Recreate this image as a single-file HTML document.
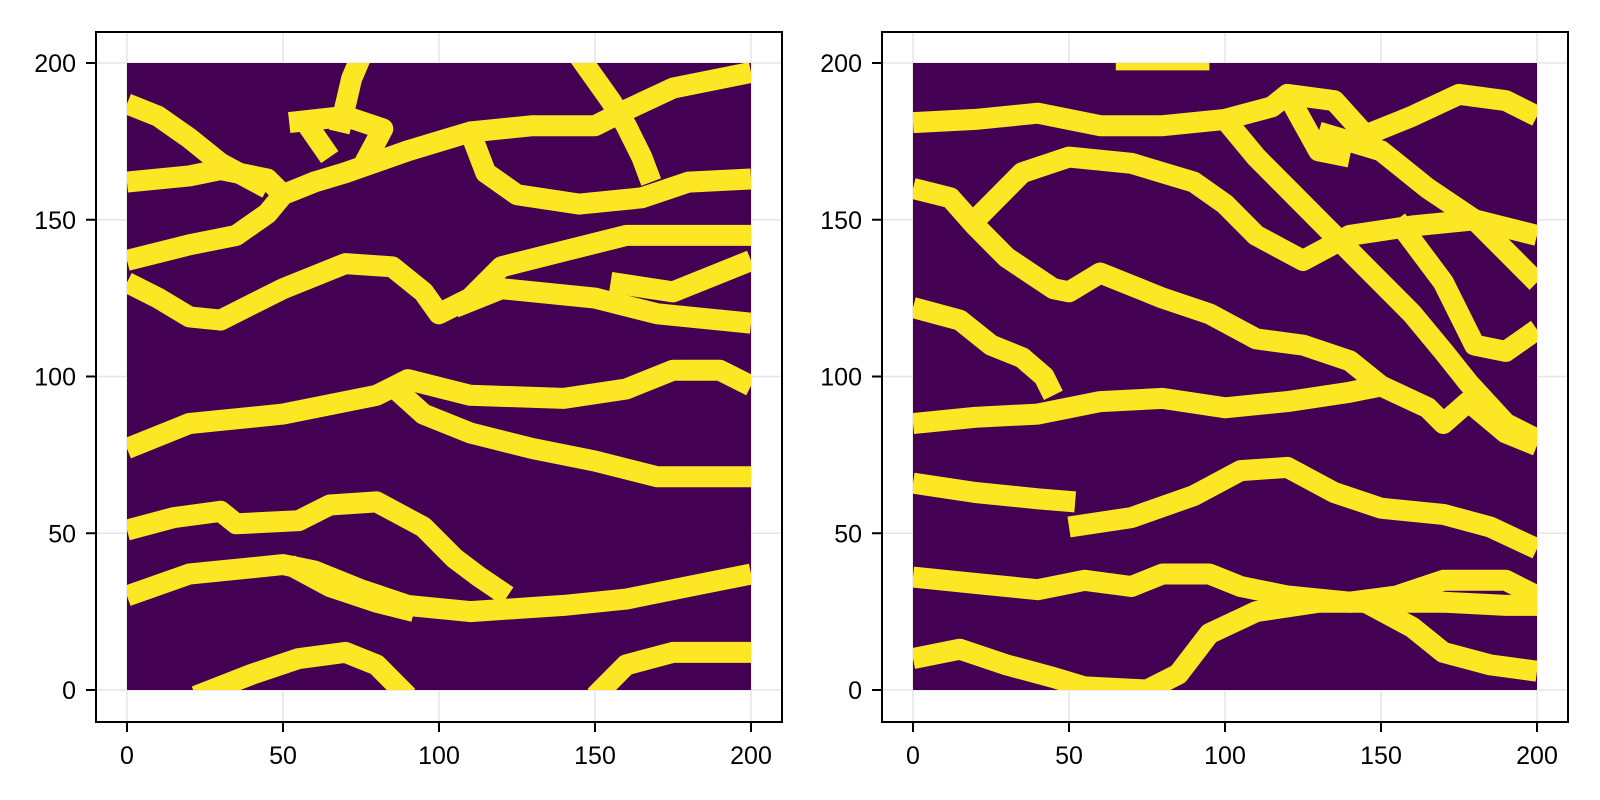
<!DOCTYPE html>
<html><head><meta charset="utf-8"><style>
html,body{margin:0;padding:0;background:#fff;}
svg{display:block;font-family:"Liberation Sans",Arial,sans-serif;}
</style></head><body>
<svg id="chart" width="1600" height="800" viewBox="0 0 1600 800" xmlns="http://www.w3.org/2000/svg"></svg>
<script>
const xTicks = [0, 50, 100, 150, 200];
const yTicks = [0, 50, 100, 150, 200];
const leftBands = [
  [[0,30],[20,37],[50,40],[60,38],[75,32],[90,27],[110,25],[140,27],[160,29],[180,33],[200,37]],
  [[0,51],[15,55],[30,57],[35,53],[55,54],[65,59],[80,60],[95,52],[105,42],[113,36],[122,30]],
  [[52,40],[65,33],[80,28],[92,25]],
  [[0,77],[20,85],[50,88],[80,94],[90,99],[110,94],[140,93],[160,96],[175,102],[190,102],[200,97]],
  [[85,97],[95,88],[110,82],[130,77],[150,73],[170,68],[200,68]],
  [[0,130],[10,125],[20,119],[30,118],[50,128],[70,136],[85,135],[95,127],[100,120],[110,125],[120,135],[140,140],[160,145],[200,145]],
  [[105,122],[120,128],[150,125],[170,120],[190,118],[200,117]],
  [[155,130],[175,127],[200,137]],
  [[0,137],[20,142],[35,145],[45,152],[50,158],[60,162],[70,165],[90,172],[110,178],[130,180],[150,180],[160,185],[175,192],[200,197]],
  [[0,162],[20,164],[30,166],[45,163],[50,158]],
  [[0,187],[10,183],[20,176],[30,168],[45,160]],
  [[52,181],[70,183],[82,179],[75,166]],
  [[58,180],[65,170]],
  [[68,178],[72,195],[75,202]],
  [[110,178],[115,165],[125,158],[145,155],[165,157],[180,162],[200,163]],
  [[145,202],[155,188],[160,180],[165,170],[168,162]],
  [[22,-2],[40,5],[55,10],[70,12],[80,8],[90,-2]],
  [[150,-2],[160,8],[175,12],[200,12]]
];
const rightBands = [
  [[0,10],[15,13],[30,8],[45,4],[55,1],[75,0],[85,5],[95,18],[110,25],[130,28],[145,28],[160,20],[170,12],[185,8],[200,6]],
  [[0,36],[20,34],[40,32],[55,35],[70,33],[80,37],[95,37],[105,33],[120,30],[140,28],[155,30],[170,35],[190,35],[200,30]],
  [[150,28],[170,28],[190,27],[200,27]],
  [[0,66],[20,63],[40,61],[52,60]],
  [[50,52],[70,55],[90,62],[105,70],[120,71],[135,63],[150,58],[170,56],[185,52],[200,45]],
  [[0,85],[20,87],[40,88],[60,92],[80,93],[100,90],[120,92],[140,95],[150,97],[165,90],[170,85],[178,92],[190,82],[200,78]],
  [[0,122],[15,118],[25,110],[35,106],[42,100],[45,94]],
  [[0,160],[12,157],[20,148],[30,138],[45,128],[50,127],[60,133],[80,125],[95,120],[110,112],[125,110],[140,105],[150,97]],
  [[20,150],[35,165],[50,170],[70,168],[90,162],[100,155],[110,145],[125,137],[140,145],[160,148],[180,150],[200,130]],
  [[0,181],[20,182],[40,184],[60,180],[80,180],[100,182],[115,186],[120,190],[135,188],[145,177],[160,183],[175,190],[190,188],[200,183]],
  [[120,190],[130,172],[140,170]],
  [[100,182],[110,170],[120,160],[130,150],[140,140],[160,120],[170,108],[178,98],[190,85],[200,80]],
  [[130,178],[150,172],[165,160],[180,150],[200,145]],
  [[155,150],[170,130],[180,110],[190,108],[200,115]],
  [[65,201],[95,201]]
];
const panels = [
  {name:'left', bands:leftBands, frameX:96, dataX0:127, dataX1:751},
  {name:'right', bands:rightBands, frameX:882, dataX0:913, dataX1:1537}
];
const NS = 'http://www.w3.org/2000/svg';
const svg = document.getElementById('chart');
const Y0 = 690, Y1 = 63, FT = 32, FB = 722;
function mk(tag, attrs, parent){
  const e = document.createElementNS(NS, tag);
  for (const k in attrs) e.setAttribute(k, attrs[k]);
  parent.appendChild(e); return e;
}
panels.forEach((p, pi) => {
  const sx = v => p.dataX0 + (v/200)*(p.dataX1 - p.dataX0);
  const sy = v => Y0 - (v/200)*(Y0 - Y1);
  const g = mk('g', {}, svg);
  
  
  const fw = (p.dataX1 - p.dataX0) + 62;
  xTicks.forEach(t => {
    const l = mk('line', {x1:sx(t), x2:sx(t), y1:FT, y2:FB, stroke:'#e6e6e6', 'stroke-width':1.5}, g);
    
    
  });
  yTicks.forEach(t => {
    const l = mk('line', {x1:p.frameX, x2:p.frameX+fw, y1:sy(t), y2:sy(t), stroke:'#e6e6e6', 'stroke-width':1.5}, g);
    
    
  });
  const cid = 'clip' + pi;
  const cp = mk('clipPath', {id:cid}, g);
  mk('rect', {x:sx(0), y:sy(200), width:sx(200)-sx(0), height:sy(0)-sy(200)}, cp);
  const bg = mk('rect', {x:sx(0), y:sy(200), width:sx(200)-sx(0), height:sy(0)-sy(200), fill:'#440154'}, g);
  
  
  const bandsG = mk('g', {'clip-path':'url(#'+cid+')'}, g);
  p.bands.forEach(b => {
    const pts = b.map(q => sx(q[0]).toFixed(1)+','+sy(q[1]).toFixed(1)).join(' ');
    const pl = mk('polyline', {points:pts, fill:'none', stroke:'#fde725', 'stroke-width':21, 'stroke-linejoin':'round', 'stroke-linecap':'butt'}, bandsG);
    
    
  });
  const fr = mk('rect', {x:p.frameX, y:FT, width:fw, height:FB-FT, fill:'none', stroke:'#000', 'stroke-width':2}, g);
  
  
  xTicks.forEach(t => {
    const tk = mk('line', {x1:sx(t), x2:sx(t), y1:FB, y2:FB+10, stroke:'#000', 'stroke-width':2}, g);
    
    
    const tx = mk('text', {x:sx(t), y:764, 'text-anchor':'middle', 'font-size':25, fill:'#000'}, g);
    tx.textContent = t;
    
    
  });
  yTicks.forEach(t => {
    const tk = mk('line', {x1:p.frameX-10, x2:p.frameX, y1:sy(t), y2:sy(t), stroke:'#000', 'stroke-width':2}, g);
    
    
    const tx = mk('text', {x:p.frameX-20, y:sy(t)+9, 'text-anchor':'end', 'font-size':25, fill:'#000'}, g);
    tx.textContent = t;
    
    
  });
});
</script>
</body></html>
